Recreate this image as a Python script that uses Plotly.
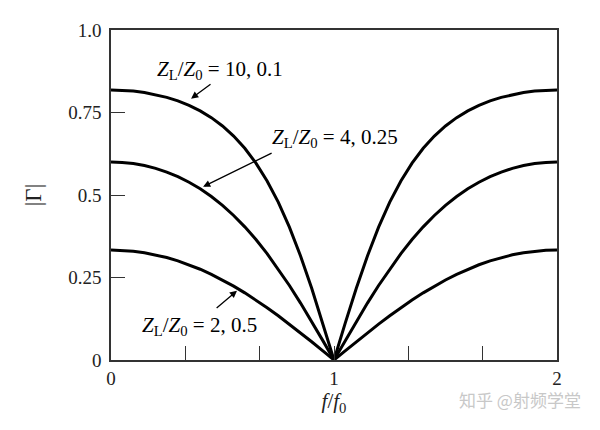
import plotly.graph_objects as go

# f/f0 sample points
f_ratio = [0.00, 0.05, 0.10, 0.15, 0.20, 0.25, 0.30, 0.35, 0.40, 0.45, 0.50,
           0.55, 0.60, 0.65, 0.70, 0.75, 0.80, 0.85, 0.90, 0.95, 1.00,
           1.05, 1.10, 1.15, 1.20, 1.25, 1.30, 1.35, 1.40, 1.45, 1.50,
           1.55, 1.60, 1.65, 1.70, 1.75, 1.80, 1.85, 1.90, 1.95, 2.00]

# |Gamma| for ZL/Z0 = 10, 0.1
gamma_10 = [0.8182, 0.8173, 0.8148, 0.8105, 0.8043, 0.7959, 0.7852, 0.7717, 0.7550, 0.7344, 0.7093,
            0.6787, 0.6416, 0.5967, 0.5426, 0.4783, 0.4025, 0.3153, 0.2173, 0.1110, 0.0,
            0.1110, 0.2173, 0.3153, 0.4025, 0.4783, 0.5426, 0.5967, 0.6416, 0.6787, 0.7093,
            0.7344, 0.7550, 0.7717, 0.7852, 0.7959, 0.8043, 0.8105, 0.8148, 0.8173, 0.8182]

# |Gamma| for ZL/Z0 = 4, 0.25
gamma_4 = [0.6000, 0.5988, 0.5952, 0.5892, 0.5807, 0.5695, 0.5556, 0.5387, 0.5187, 0.4954, 0.4685,
           0.4379, 0.4034, 0.3649, 0.3223, 0.2759, 0.2258, 0.1725, 0.1165, 0.0587, 0.0,
           0.0587, 0.1165, 0.1725, 0.2258, 0.2759, 0.3223, 0.3649, 0.4034, 0.4379, 0.4685,
           0.4954, 0.5187, 0.5387, 0.5556, 0.5695, 0.5807, 0.5892, 0.5952, 0.5988, 0.6000]

# |Gamma| for ZL/Z0 = 2, 0.5
gamma_2 = [0.3333, 0.3324, 0.3297, 0.3251, 0.3187, 0.3105, 0.3005, 0.2886, 0.2750, 0.2596, 0.2425,
           0.2238, 0.2035, 0.1817, 0.1585, 0.1341, 0.1086, 0.0823, 0.0552, 0.0277, 0.0,
           0.0277, 0.0552, 0.0823, 0.1086, 0.1341, 0.1585, 0.1817, 0.2035, 0.2238, 0.2425,
           0.2596, 0.2750, 0.2886, 0.3005, 0.3105, 0.3187, 0.3251, 0.3297, 0.3324, 0.3333]

x_tickvals = [0, 1/3, 2/3, 1, 4/3, 5/3, 2]
x_ticktext = ['0', '', '', '1', '', '', '2']
y_tickvals = [0, 0.25, 0.5, 0.75, 1.0]
y_ticktext = ['0', '0.25', '0.5', '0.75', '1.0']

SERIF = 'Liberation Serif'
AXIS_COLOR = '#333333'

fig = go.Figure()
for g in [gamma_10, gamma_4, gamma_2]:
    fig.add_trace(go.Scatter(x=f_ratio, y=g, mode='lines',
                             line=dict(color='black', width=3),
                             showlegend=False, hoverinfo='skip'))

# curve labels (text) and arrows
labels = [
    ('<i>Z</i><sub>L</sub>/<i>Z</i><sub>0</sub> = 10, 0.1', 0.487, 0.880),
    ('<i>Z</i><sub>L</sub>/<i>Z</i><sub>0</sub> = 4, 0.25', 1.003, 0.673),
    ('<i>Z</i><sub>L</sub>/<i>Z</i><sub>0</sub> = 2, 0.5', 0.397, 0.104),
]
for txt, lx, ly in labels:
    fig.add_annotation(x=lx, y=ly, text=txt, showarrow=False,
                       font=dict(family=SERIF, size=21, color='black'))

arrows = [
    (0.359, 0.792, 0.453, 0.839),
    (0.413, 0.525, 0.727, 0.629),
    (0.565, 0.210, 0.467, 0.154),
]
for hx, hy, tx, ty in arrows:
    fig.add_annotation(x=hx, y=hy, ax=tx, ay=ty, xref='x', yref='y',
                       axref='x', ayref='y', text='', showarrow=True,
                       arrowhead=2, arrowsize=1.1, arrowwidth=1.3,
                       arrowcolor='black')

# watermark
fig.add_annotation(x=1.058, y=-0.119, xref='paper', yref='paper',
                   xanchor='right', yanchor='middle',
                   text='知乎 @射频学堂', showarrow=False,
                   font=dict(family='Noto Sans CJK SC', size=17, color='#c8c8c8'))

fig.update_layout(
    width=600, height=430,
    margin=dict(l=103, r=51, t=15, b=78),
    plot_bgcolor='white', paper_bgcolor='white',
    font=dict(family=SERIF, size=19, color='#222222'),
    xaxis=dict(range=[0, 2], tickvals=x_tickvals, ticktext=x_ticktext,
               ticks='inside', ticklen=14, tickwidth=1.3, tickcolor=AXIS_COLOR,
               showline=True, linecolor=AXIS_COLOR, linewidth=1.5, mirror=True,
               showgrid=False, zeroline=False,
               title=dict(text='<i>f</i>/<i>f</i><sub>0</sub>', standoff=6,
                          font=dict(family=SERIF, size=21))),
    yaxis=dict(range=[0, 1], tickvals=y_tickvals, ticktext=y_ticktext,
               ticks='inside', ticklen=14, tickwidth=1.3, tickcolor=AXIS_COLOR,
               ticklabelstandoff=4,
               showline=True, linecolor=AXIS_COLOR, linewidth=1.5, mirror=True,
               showgrid=False, zeroline=False,
               title=dict(text='|Γ|', standoff=20,
                          font=dict(family=SERIF, size=23))),
)

fig.write_html("out.html")
